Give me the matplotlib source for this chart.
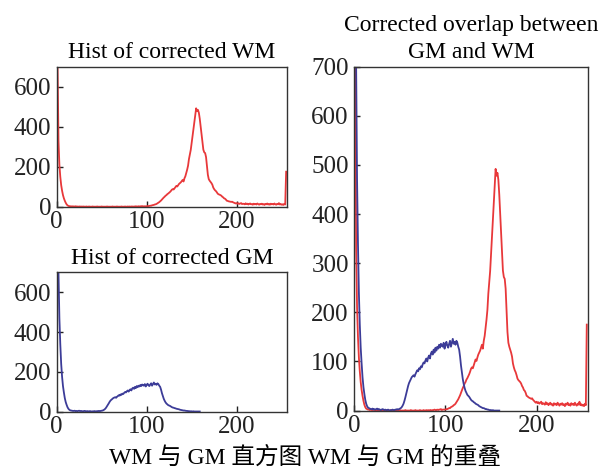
import numpy as np
from matplotlib import pyplot as plt

plt.rcParams['font.family'] = ['Liberation Serif', 'Noto Sans CJK SC']
plt.rcParams['font.size'] = 17

# histogram counts of corrected white matter, intensity 0..255
wmCounts = [
    1200, 700, 330, 210, 150, 108, 80, 58, 42, 30, 20, 12, 7, 4, 3, 2,
    2, 1, 2, 1, 1, 2, 1, 1, 0, 1, 1, 0, 1, 0, 1, 0,
    0, 1, 0, 0, 1, 0, 0, 0, 1, 0, 0, 0, 0, 1, 0, 0,
    0, 0, 1, 0, 0, 0, 0, 0, 1, 0, 0, 0, 0, 0, 1, 0,
    0, 0, 0, 1, 0, 0, 0, 0, 1, 0, 0, 0, 1, 0, 0, 1,
    0, 1, 0, 1, 1, 0, 1, 1, 2, 1, 1, 2, 1, 2, 2, 3,
    1, 2, 2, 2, 2, 3, 3, 4, 5, 5, 7, 8, 9, 11, 12, 14,
    17, 20, 23, 27, 31, 36, 41, 46, 50, 55, 58, 63, 66, 70, 74, 79,
    85, 88, 86, 92, 98, 104, 101, 108, 114, 118, 122, 128, 134, 126, 142, 152,
    168, 185, 205, 238, 262, 284, 318, 352, 390, 420, 452, 492, 478, 484, 470, 440,
    402, 365, 330, 285, 272, 268, 248, 205, 160, 138, 130, 124, 118, 110, 96, 88,
    82, 78, 72, 65, 62, 60, 58, 55, 50, 47, 42, 40, 36, 30, 29, 27,
    26, 25, 24, 25, 22, 20, 18, 16, 18, 15, 17, 14, 16, 18, 13, 15,
    14, 12, 17, 13, 15, 11, 14, 16, 12, 13, 10, 15, 12, 14, 11, 16,
    13, 10, 14, 12, 15, 11, 13, 9, 14, 12, 16, 11, 13, 10, 15, 12,
    14, 11, 16, 12, 10, 14, 12, 18, 11, 13, 10, 12, 9, 14, 11, 175,
]

# histogram counts of corrected grey matter, intensity 0..159 (zero above)
gmCounts = [
    1500, 1000, 700, 470, 340, 240, 175, 128, 96, 68, 48, 34, 22, 14, 9, 6,
    5, 4, 3, 3, 4, 2, 3, 2, 3, 4, 2, 3, 2, 1, 2, 3,
    2, 1, 2, 1, 1, 2, 1, 0, 1, 1, 2, 1, 1, 2, 2, 3,
    2, 3, 4, 5, 7, 10, 14, 20, 27, 35, 42, 50, 56, 60, 64, 68,
    70, 72, 69, 74, 78, 82, 80, 86, 84, 90, 88, 94, 98, 96, 102, 106,
    100, 108, 112, 106, 116, 120, 114, 124, 118, 128, 122, 130, 126, 134, 128, 136,
    132, 130, 138, 126, 134, 140, 132, 128, 136, 142, 130, 138, 146, 136, 140, 134,
    142, 138, 130, 124, 110, 92, 78, 64, 54, 46, 40, 36, 32, 30, 28, 25,
    22, 20, 19, 17, 16, 14, 13, 12, 11, 9, 8, 7, 6, 5, 5, 4,
    3, 3, 2, 2, 1, 1, 1, 0, 1, 0, 0, 0, 0, 0, 0, 0,
]

leftYTicks = [0, 200, 400, 600]
rightYTicks = [0, 100, 200, 300, 400, 500, 600, 700]
xTicks = [0, 100, 200]

titleWM = 'Hist of corrected WM'
titleGM = 'Hist of corrected GM'
titleBoth = 'Corrected overlap between\nGM and WM'
caption = 'WM 与 GM 直方图 WM 与 GM 的重叠'

red = '#e8383a'
blue = '#3c3c98'


def styleAxis(ax, yticks):
    ax.set_xlim(0, 256)
    ax.set_ylim(0, 700)
    ax.set_xticks(xTicks)
    ax.set_yticks(yticks)
    ax.tick_params(direction='in', length=4, width=1, colors='#222222',
                   labelsize=18)
    ax.tick_params(axis='x', pad=3)
    ax.tick_params(axis='y', pad=4)
    for spine in ax.spines.values():
        spine.set_color('#333333')
        spine.set_linewidth(1.0)
        spine.set_zorder(3)


fig = plt.figure(figsize=(6.03, 4.73), dpi=100)

axWM = fig.add_axes([0.094, 0.563, 0.382, 0.296])
axGM = fig.add_axes([0.094, 0.130, 0.382, 0.294])
axBoth = fig.add_axes([0.5876, 0.132, 0.387, 0.727])

wmX = np.arange(len(wmCounts))
gmX = np.arange(len(gmCounts))

axWM.plot(wmX, wmCounts, color=red, lw=1.3)
styleAxis(axWM, leftYTicks)
axWM.set_title(titleWM, fontsize=17, pad=6)

axGM.plot(gmX, gmCounts, color=blue, lw=1.3)
styleAxis(axGM, leftYTicks)
axGM.set_title(titleGM, fontsize=17, pad=6)

axBoth.plot(wmX, wmCounts, color=red, lw=1.3)
axBoth.plot(gmX, gmCounts, color=blue, lw=1.3)
styleAxis(axBoth, rightYTicks)
axBoth.set_title(titleBoth, fontsize=17, pad=6, linespacing=1.4)

fig.text(0.505, 0.033, caption, ha='center', va='center', fontsize=17)

fig.savefig('out.png', dpi=100)
